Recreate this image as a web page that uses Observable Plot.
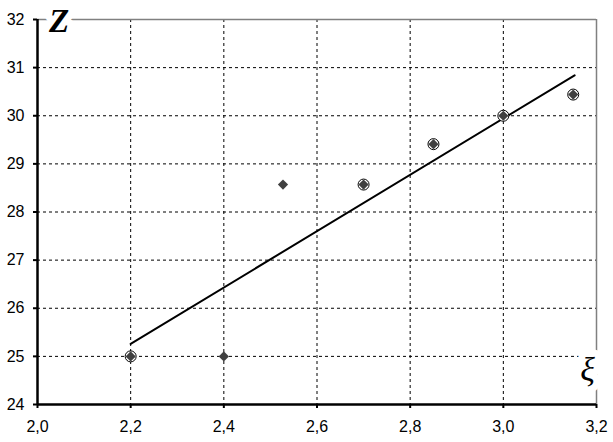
<!DOCTYPE html>
<html>
<head>
<meta charset="utf-8">
<script src="https://cdn.jsdelivr.net/npm/d3@7"></script>
<script src="https://cdn.jsdelivr.net/npm/@observablehq/plot@0.6"></script>
<style>
  html, body { margin: 0; padding: 0; background: #fff; }
</style>
</head>
<body>
<div id="chart"></div>
<script>
const xTicks = [2.0, 2.2, 2.4, 2.6, 2.8, 3.0, 3.2];
const yTicks = [24, 25, 26, 27, 28, 29, 30, 31, 32];
const xGrid = [2.2, 2.4, 2.6, 2.8, 3.0];
const yGrid = [25, 26, 27, 28, 29, 30, 31];

const xi = [2.2, 2.4, 2.527, 2.7, 2.85, 3.0, 3.15];
const zv = [25.0, 25.0, 28.57, 28.57, 29.41, 30.0, 30.44];
const circled = [true, false, false, true, true, true, true];

const fitX = [2.2, 3.153];
const fitZ = [25.26, 30.84];

const points = xi.map((x, i) => ({x, z: zv[i], c: circled[i]}));
const fit = fitX.map((x, i) => ({x, z: fitZ[i]}));
const fmtX = d => d.toFixed(1).replace(".", ",");

const chart = Plot.plot({
  width: 613,
  height: 442,
  marginLeft: 37,
  marginRight: 17,
  marginTop: 19,
  marginBottom: 38,
  x: {domain: [2.0, 3.2], label: null},
  y: {domain: [24, 32], label: null},
  style: {fontFamily: "'Liberation Sans', Arial, sans-serif", fontSize: "16px", color: "black", background: "white"},
  marks: [
    Plot.ruleX(xGrid, {stroke: "black", strokeWidth: 1, strokeDasharray: "3,3"}),
    Plot.ruleY(yGrid, {stroke: "black", strokeWidth: 1, strokeDasharray: "3,3"}),
    Plot.ruleY([32], {stroke: "#808080", strokeWidth: 1.5}),
    Plot.ruleX([3.2], {stroke: "#808080", strokeWidth: 1.5}),
    Plot.text(["Z"], {frameAnchor: "top-left", text: d => d, textAnchor: "middle", lineAnchor: "middle", dx: 21.5, dy: 2,
      fontFamily: "'Liberation Serif', 'Times New Roman', serif", fontStyle: "italic", fontWeight: "bold", fontSize: 33,
      fill: "black", stroke: "white", strokeWidth: 14}),
    Plot.text(["ξ"], {frameAnchor: "bottom-right", text: d => d, textAnchor: "middle", lineAnchor: "middle", dx: -9, dy: -34,
      fontFamily: "'Liberation Serif', 'Times New Roman', serif", fontStyle: "italic", fontSize: 34,
      fill: "black", stroke: "white", strokeWidth: 14}),
    Plot.ruleX([2.0], {stroke: "black", strokeWidth: 2.5}),
    Plot.ruleY([24], {stroke: "black", strokeWidth: 2.5}),
    Plot.axisX(xTicks, {tickSize: 4, tickPadding: 12, strokeWidth: 2, tickFormat: fmtX, fontSize: 16, label: null}),
    Plot.axisY(yTicks, {tickSize: 4, tickPadding: 9, strokeWidth: 2, tickFormat: d => String(d), fontSize: 16, label: null}),
    Plot.line(fit, {x: "x", y: "z", stroke: "black", strokeWidth: 2}),
    Plot.dot(points.filter(d => d.c), {x: "x", y: "z", r: 5.5, stroke: "black", strokeWidth: 1, fill: "white"}),
    Plot.dot(points, {x: "x", y: "z", symbol: "diamond2", r: 4.6, fill: "#404040", stroke: "none"})
  ]
});
document.getElementById("chart").appendChild(chart);
</script>
</body>
</html>
